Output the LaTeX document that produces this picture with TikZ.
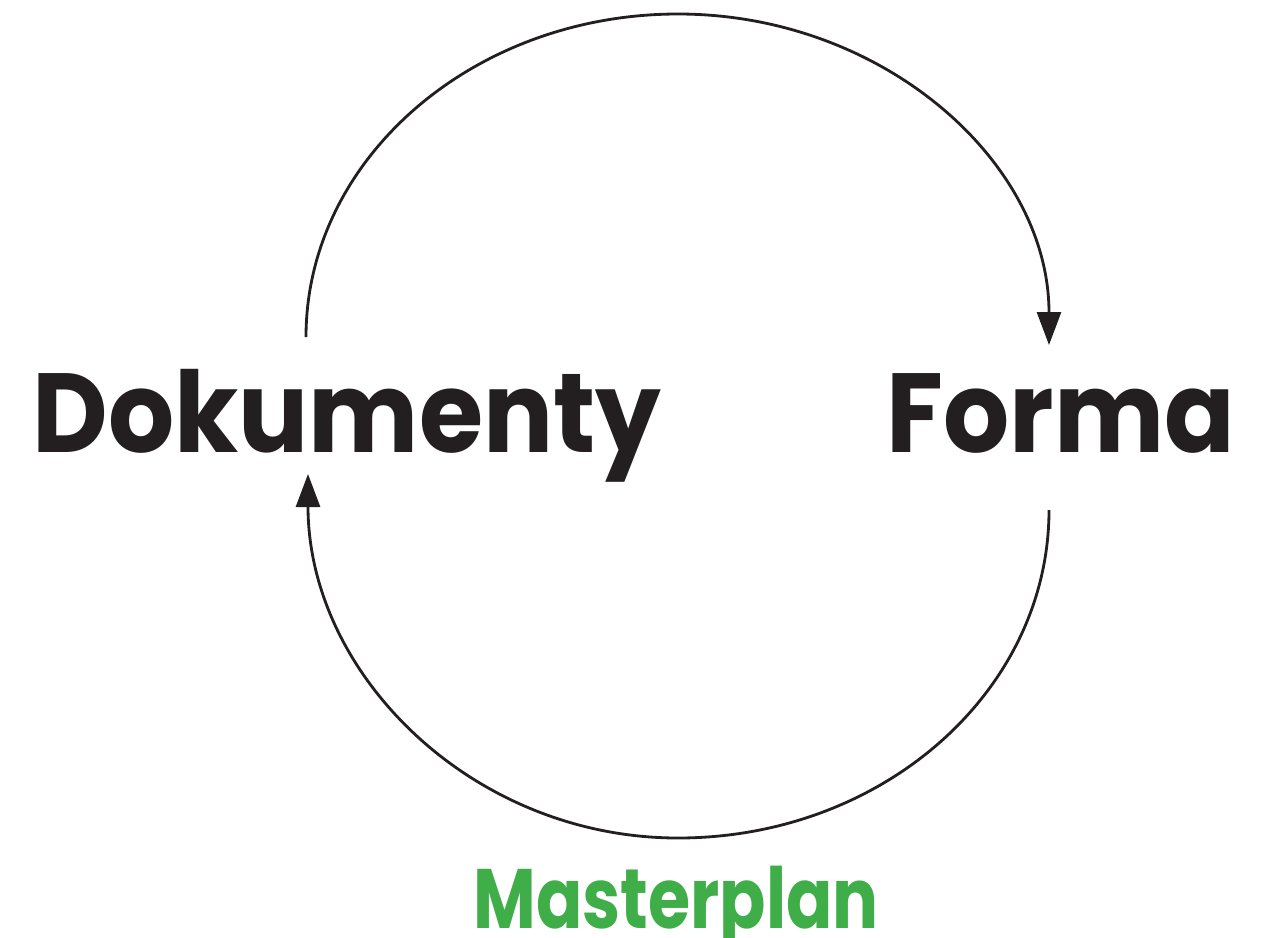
\documentclass[tikz,border=0pt]{standalone}
\usepackage{fontspec}
\setmainfont{Poppins}
\newfontfamily\wordfont{Poppins}[FakeStretch=0.925]
\newfontfamily\greenfont{Poppins}[FakeStretch=0.81]
\usetikzlibrary{arrows.meta}
\definecolor{ink}{HTML}{231F20}
\definecolor{leaf}{HTML}{3FAE49}
\begin{document}
\begin{tikzpicture}[x=0.02cm,y=-0.02cm,
  word/.style={inner sep=0pt,anchor=base,text=ink,font=\wordfont\fontsize{64}{70}\selectfont\bfseries},
  green word/.style={inner sep=0pt,anchor=base,text=leaf,font=\greenfont\fontsize{48}{54}\selectfont\bfseries},
  loop arrow/.style={draw=ink,line width=1.6pt,-{Triangle[length=0.66cm,width=0.48cm]}}]
\useasboundingbox (0,0) rectangle (1271,937);
\node[word] (dok) at (347,452) {Dokumenty};
\node[word] (forma) at (1061,452) {Forma};
\node[green word] (master) at (676,928) {Masterplan};
\coordinate (dokTop) at (306,337);
\coordinate (topMid) at (678,14);
\coordinate (formaTop) at (1049,345);
\coordinate (formaBot) at (1049,510);
\coordinate (botMid) at (678,838);
\coordinate (dokBot) at (308,474);
\draw[loop arrow] (dokTop) .. controls +(0,-178) and +(-205,0) .. (topMid)
  .. controls +(205,0) and +(0,-183) .. (formaTop);
\draw[loop arrow] (formaBot) .. controls +(0,181) and +(205,0) .. (botMid)
  .. controls +(-205,0) and +(0,201) .. (dokBot);
\end{tikzpicture}
\end{document}
